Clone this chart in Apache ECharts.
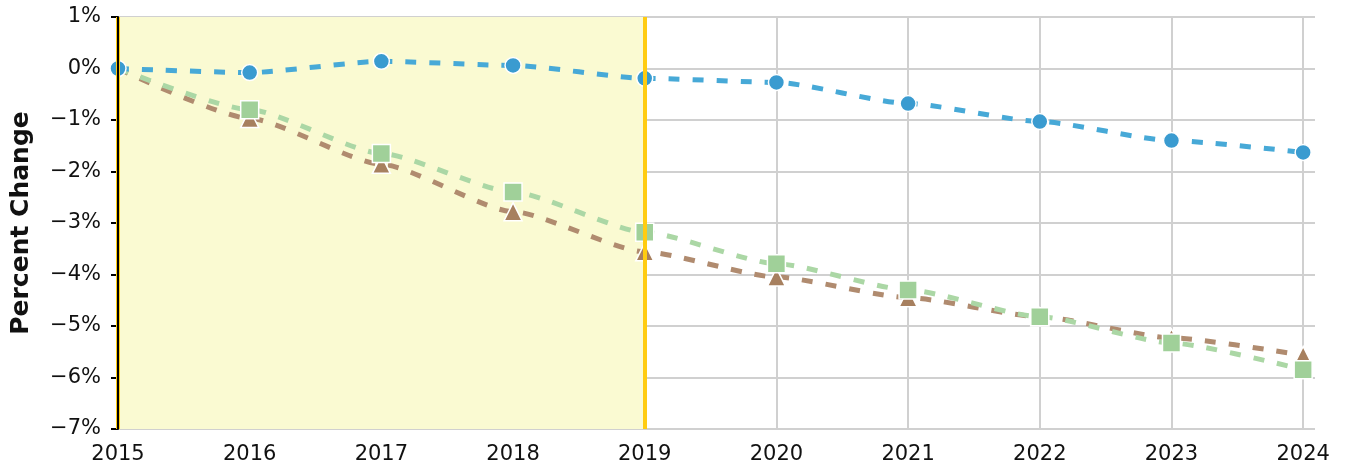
<!DOCTYPE html>
<html>
<head>
<meta charset="utf-8">
<script src="https://cdn.jsdelivr.net/npm/echarts@6/dist/echarts.min.js"></script>
<style>
  html, body { margin: 0; padding: 0; background: #fff; }
  #main { width: 1347px; height: 473px; }
</style>
</head>
<body>
<div id="main"></div>
<script>
// years on the x axis
var years = [2015, 2016, 2017, 2018, 2019, 2020, 2021, 2022, 2023, 2024];
// percent change
var blueVals  = [0, -0.08, 0.14, 0.06, -0.19, -0.27, -0.68, -1.03, -1.40, -1.63];
var greenVals = [0, -0.80, -1.65, -2.40, -3.18, -3.79, -4.30, -4.82, -5.33, -5.85];
var brownVals = [0, -0.97, -1.86, -2.78, -3.56, -4.05, -4.45, -4.82, -5.23, -5.57];
// shaded period
var shadeFrom = 2015;
var shadeTo = 2019;

// [year, value] pairs; hideFirst drops the marker on the shared start point
function pairs(vals, hideFirst) {
    return years.map(function (y, i) {
        if (hideFirst && i === 0) return { value: [y, vals[i]], symbol: 'none' };
        return [y, vals[i]];
    });
}

var myChart = echarts.init(document.getElementById('main'));
var font = 'DejaVu Sans';

function pct(v) {
    return (v < 0 ? '\u2212' + Math.abs(v) : v) + '%';
}

var option = {
    animation: false,
    grid: { left: 118, top: 17, right: 32, bottom: 44, containLabel: false, outerBoundsMode: 'none' },
    xAxis: {
        type: 'value',
        min: 2015,
        max: 2024.09,
        interval: 1,
        axisLine: { show: false },
        axisTick: { show: false },
        axisLabel: {
            color: '#111',
            fontFamily: font,
            fontSize: 21,
            margin: 15,
            showMaxLabel: false,
            formatter: function (v) { return Number.isInteger(v) ? String(v) : ''; }
        },
        splitLine: { show: true, showMaxLine: false, lineStyle: { color: '#d0d0d0', width: 2 } }
    },
    yAxis: [
        {
            type: 'value',
            min: -7,
            max: 1,
            interval: 1,
            name: 'Percent Change',
            nameLocation: 'middle',
            nameGap: 84,
            nameTextStyle: { color: '#111', fontFamily: font, fontSize: 25, fontWeight: 'bold' },
            axisLine: { show: false },
            axisTick: { show: true, length: 7, lineStyle: { color: '#000', width: 2 } },
            axisLabel: {
                color: '#111',
                fontFamily: font,
                fontSize: 21,
                margin: 17,
                formatter: pct
            },
            splitLine: { show: true, lineStyle: { color: '#d0d0d0', width: 2 } }
        },
        {
            // black axis line drawn above the yellow edge
            type: 'value',
            position: 'left',
            min: -7,
            max: 1,
            interval: 1,
            z: 8,
            axisLine: { show: true, onZero: false, lineStyle: { color: '#000', width: 2 } },
            axisTick: { show: false },
            axisLabel: { show: false },
            splitLine: { show: false }
        }
    ],
    series: [
        {
            // background band and its edges
            type: 'line',
            z: -1,
            data: [],
            silent: true,
            markArea: {
                silent: true,
                itemStyle: { color: '#fafad2' },
                data: [[{ xAxis: shadeFrom }, { xAxis: shadeTo }]]
            },
            markLine: {
                silent: true,
                symbol: 'none',
                label: { show: false },
                lineStyle: { color: '#ffcc11', width: 4, type: 'solid' },
                data: [{ xAxis: shadeFrom }, { xAxis: shadeTo }]
            }
        },
        {
            name: 'brown',
            type: 'line',
            data: pairs(brownVals, true),
            smooth: 0.2,
            smoothMonotone: 'x',
            symbol: 'triangle',
            symbolSize: 18,
            itemStyle: { color: '#a7805f', borderColor: '#fff', borderWidth: 1.5 },
            lineStyle: { color: '#b08b6f', width: 5, type: [11, 13] }
        },
        {
            name: 'green',
            type: 'line',
            data: pairs(greenVals, true),
            smooth: 0.2,
            smoothMonotone: 'x',
            symbol: 'rect',
            symbolSize: 18,
            itemStyle: { color: '#a0d099', borderColor: '#fff', borderWidth: 1.5 },
            lineStyle: { color: '#abd7a5', width: 5, type: [11, 13] }
        },
        {
            name: 'blue',
            type: 'line',
            data: pairs(blueVals, false),
            smooth: 0.2,
            smoothMonotone: 'x',
            symbol: 'circle',
            symbolSize: 16,
            itemStyle: { color: '#3a9bd0', borderColor: '#fff', borderWidth: 1.5 },
            lineStyle: { color: '#47a9d7', width: 5, type: [11, 13] }
        }
    ]
};

option && myChart.setOption(option);
</script>
</body>
</html>
